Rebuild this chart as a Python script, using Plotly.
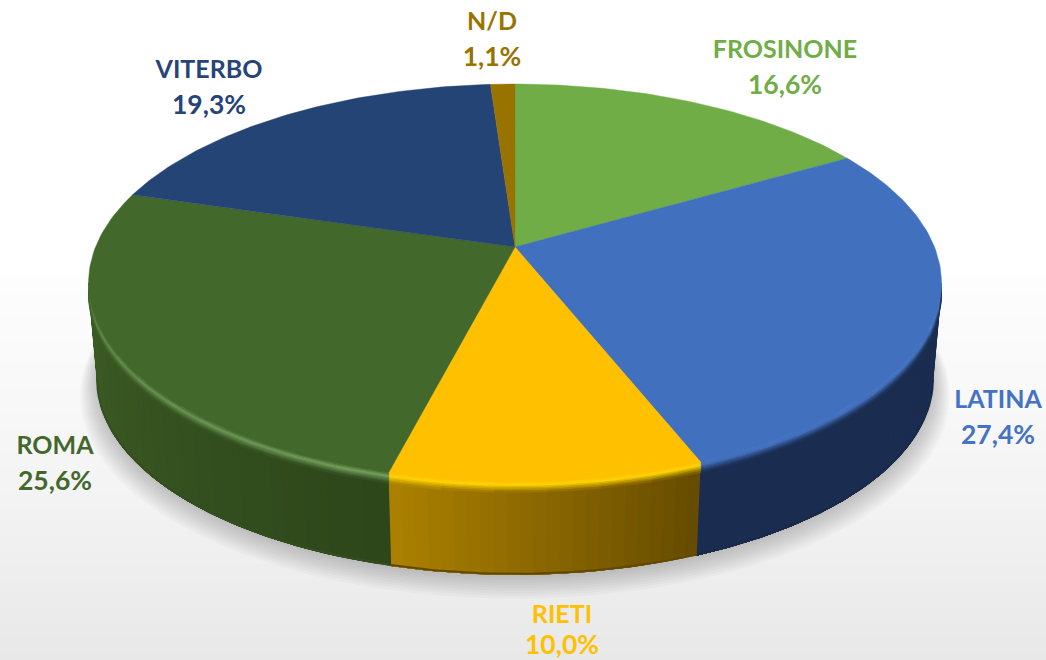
import numpy as np
import plotly.graph_objects as go

# ---------- data ----------
categories = ["FROSINONE", "LATINA", "RIETI", "ROMA", "VITERBO", "N/D"]
values = [16.6, 27.4, 10.0, 25.6, 19.3, 1.1]

# ---------- styles ----------
top_colors = ["#70AD47", "#4170BF", "#FFC000", "#43682B", "#254476", "#997300"]
text_colors = ["#70AD47", "#4472C4", "#FFC000", "#43682B", "#264478", "#997300"]
wall_start = ["#4A7530", "#1A2C4F", "#654B00", "#2D461A", "#1A2C4F", "#665000"]
wall_end = ["#4A7530", "#1A2C4F", "#AD8100", "#43662A", "#1A2C4F", "#665000"]
hi_start = [None, None, "#FFD400", "#739F5C", None, None]
hi_end = [None, None, "#FFD400", "#4F7A38", None, None]
rim_dark = [0.05, 0.05, 0.28, 0.08, 0.05, 0.05]
label_anchor = [(785, 48, 84), (998, 398, 434), (562, 613, 644),
                (55, 444, 480), (209, 68, 104), (492, 20, 56)]
bg_y = [0, 270, 280, 400, 500, 600, 660]
bg_c = [255, 255, 253, 248, 243, 236, 232]

W, H = 1046, 660
CX, CY, A, B, K = 515.0, 247.0, 419.5, 192.3, 0.18
WALL_SCALE, WALL_DY = 0.98, 98.0
BEVEL = 11.0
SIL = np.degrees(np.arccos(-K))  # angle of the side silhouette


def project(theta_deg, scale=1.0, dy=0.0):
    t = np.radians(theta_deg)
    w = 1 + K * np.cos(t)
    return CX + scale * A * np.sin(t) / w, CY - scale * B * np.cos(t) / w + dy


def rgb(c):
    return np.array([int(c[i:i + 2], 16) for i in (1, 3, 5)], float)


def mixs(c1, c2, f):
    v = rgb(c1) * (1 - f) + rgb(c2) * f
    return "#%02X%02X%02X" % tuple(int(round(x)) for x in v)


fig = go.Figure()


def poly(xs, ys, color, lw=0.0):
    fig.add_trace(go.Scatter(x=list(xs), y=list(ys), mode="lines", fill="toself",
                             fillcolor=color, line=dict(color=color, width=lw),
                             hoverinfo="skip", showlegend=False))


# slice limits from the values
total = sum(values)
edges = np.concatenate([[0], np.cumsum(values)]) / total * 360.0
VIS_A, VIS_B = SIL, 360.0 - SIL

# soft shadow
ang = np.linspace(0, 360, 241)
for i in range(9, 0, -1):
    x, y = project(ang, WALL_SCALE * (1 + 0.0045 * i), WALL_DY + 1.6 * i)
    poly(x, y, "rgba(0,0,0,0.024)")

# walls: each strip overlaps the following one, so no seam shows
for i, cat in enumerate(categories):
    a0, a1 = max(edges[i], VIS_A), min(edges[i + 1], VIS_B)
    if a1 <= a0:
        continue
    steps = max(1, int((a1 - a0) / 1.5))
    g = np.linspace(a0, a1, steps + 1)
    for j in range(steps):
        u, v = g[j], g[j + 1]
        f = (0.5 * (u + v) - edges[i]) / (edges[i + 1] - edges[i])
        col = mixs(wall_start[i], wall_end[i], f)
        seg = np.linspace(u, a1, 2 + 3 * (steps - j))
        xt, yt = project(seg, 1.0, BEVEL * 0.5)
        xb, yb = project(seg[::-1], WALL_SCALE, WALL_DY)
        poly(np.r_[xt, xb, xt[0]], np.r_[yt, yb, yt[0]], col)
    # darker rim at the foot of the wall
    seg = np.linspace(a0, a1, 40)
    xr, yr = project(seg, WALL_SCALE, WALL_DY - 1.0)
    fig.add_trace(go.Scatter(x=xr, y=yr, mode="lines", hoverinfo="skip", showlegend=False,
                             line=dict(color=mixs(mixs(wall_start[i], wall_end[i], 0.5), "#000000", rim_dark[i]),
                                       width=2)))

# bevel between top face and wall
N_BAND = 7
for i, cat in enumerate(categories):
    a0, a1 = max(edges[i], VIS_A), min(edges[i + 1], VIS_B)
    if a1 <= a0:
        continue
    chunks = max(1, int((a1 - a0) / 6))
    g = np.linspace(a0, a1, chunks + 1)
    for j in range(chunks):
        u, v = g[j], g[j + 1]
        f = (0.5 * (u + v) - edges[i]) / (edges[i + 1] - edges[i])
        wall = mixs(wall_start[i], wall_end[i], f)
        seg = np.linspace(u, v, 5)
        for b in range(N_BAND):
            t0, t1 = b / N_BAND, (b + 1) / N_BAND
            tm = 0.5 * (t0 + t1)
            if hi_start[i]:
                hi = mixs(hi_start[i], hi_end[i], f)
                if tm < 0.35:
                    col = mixs(top_colors[i], hi, tm / 0.35)
                else:
                    col = mixs(hi, wall, (tm - 0.35) / 0.65)
            else:
                col = mixs(top_colors[i], wall, max(0.0, (tm - 0.3) / 0.7))
            xa, ya = project(seg, 1.0, BEVEL * t0)
            xc, yc = project(seg[::-1], 1.0, BEVEL * t1)
            poly(np.r_[xa, xc, xa[0]], np.r_[ya, yc, ya[0]], col, lw=0.7)

# top faces
for i, cat in enumerate(categories):
    arc = np.linspace(edges[i], edges[i + 1], max(3, int(values[i] * 3.6)) + 1)
    x, y = project(arc)
    poly(np.r_[CX, x, CX], np.r_[CY, y, CY], top_colors[i], lw=0.4)

# labels
for i, cat in enumerate(categories):
    lx, y1, y2 = label_anchor[i]
    pct = f"{values[i]:.1f}%".replace(".", ",")
    fig.add_trace(go.Scatter(x=[lx], y=[y1 + 3.5], mode="text", text=[cat],
                             textposition="middle center", hoverinfo="skip", showlegend=False,
                             textfont=dict(family="Lato", size=25, color=text_colors[i], weight="bold")))
    fig.add_trace(go.Scatter(x=[lx], y=[y2 + 3], mode="text", text=[pct],
                             textposition="middle center", hoverinfo="skip", showlegend=False,
                             textfont=dict(family="Lato", size=26.5, color=text_colors[i], weight="bold")))

# page background: vertical gradient
shapes = []
for y0 in range(0, H, 4):
    c = int(round(np.interp(y0 + 2, bg_y, bg_c)))
    shapes.append(dict(type="rect", xref="x", yref="y", x0=0, x1=W, y0=y0, y1=y0 + 4,
                       fillcolor=f"rgb({c},{c},{c})", line=dict(width=0), layer="below"))

fig.update_layout(
    width=W, height=H, margin=dict(l=0, r=0, t=0, b=0),
    paper_bgcolor="white", plot_bgcolor="white", showlegend=False, shapes=shapes,
    xaxis=dict(range=[0, W], visible=False, fixedrange=True),
    yaxis=dict(range=[H, 0], visible=False, fixedrange=True),
)
fig.write_html("out.html", config=dict(displayModeBar=False),
               post_script="document.body.style.margin='0';document.body.style.overflow='hidden';")
